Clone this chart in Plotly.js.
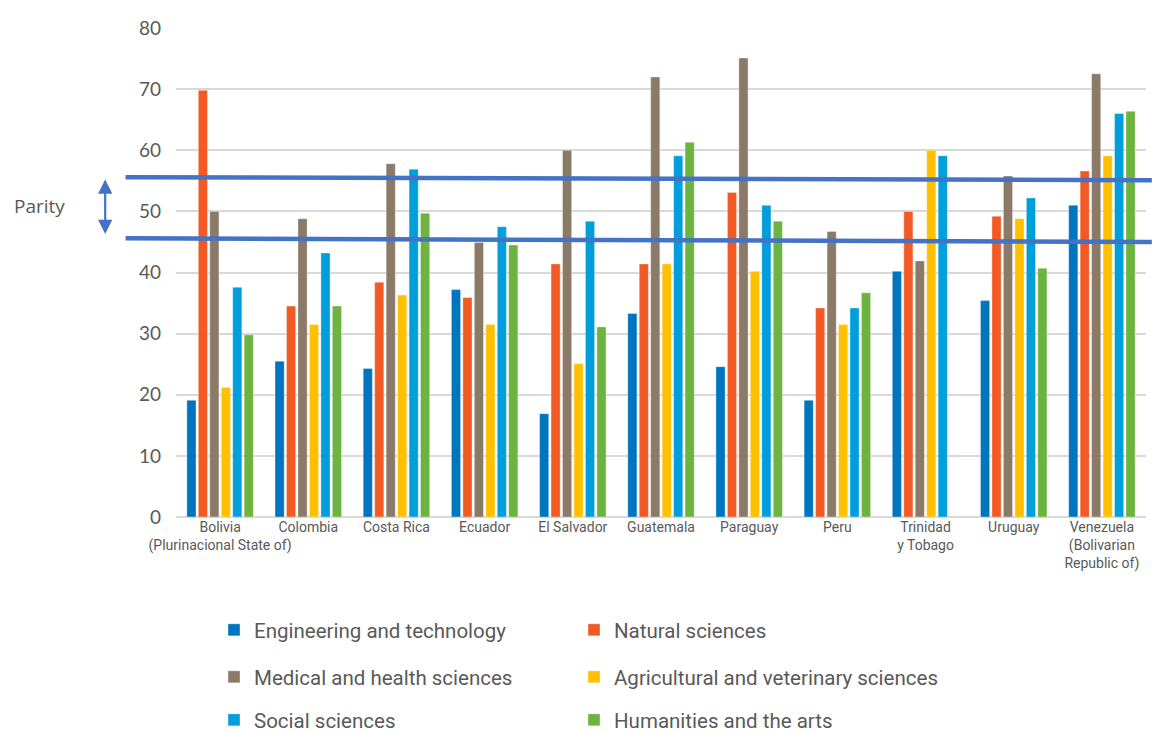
<!DOCTYPE html>
<html>
<head>
<meta charset="utf-8">
<script src="https://cdn.plot.ly/plotly-3.0.1.min.js"></script>
<style>html,body{margin:0;padding:0;background:#fff;}#chart{width:1158px;height:733px;}</style>
</head>
<body>
<div id="chart"></div>
<script>
var countries = ["Bolivia<br>(Plurinacional State of)", "Colombia", "Costa Rica", "Ecuador", "El Salvador", "Guatemala", "Paraguay", "Peru", "Trinidad<br>y Tobago", "Uruguay", "Venezuela<br>(Bolivarian<br>Republic of)"];
var seriesNames = ["Engineering and technology", "Natural sciences", "Medical and health sciences", "Agricultural and veterinary sciences", "Social sciences", "Humanities and the arts"];
var engineering  = [19.1, 25.5, 24.3, 37.2, 16.9, 33.3, 24.6, 19.1, 40.2, 35.4, 51.0];
var natural      = [69.8, 34.5, 38.4, 35.9, 41.4, 41.4, 53.1, 34.2, 50.0, 49.2, 56.6];
var medical      = [50.0, 48.8, 57.8, 44.9, 60.0, 72.0, 75.1, 46.7, 41.9, 55.8, 72.5];
var agricultural = [21.2, 31.5, 36.3, 31.5, 25.1, 41.4, 40.2, 31.5, 60.0, 48.8, 59.1];
var social       = [37.6, 43.2, 56.9, 47.5, 48.4, 59.1, 51.0, 34.2, 59.1, 52.2, 66.0];
var humanities   = [29.8, 34.5, 49.7, 44.5, 31.1, 61.3, 48.4, 36.7, null, 40.7, 66.4];
var parityUpper = [55.6, 55.1];
var parityLower = [45.6, 45.0];
var yTicks = [0, 10, 20, 30, 40, 50, 60, 70, 80];

var colors = ["#0075BF", "#F15A24", "#8B7A67", "#FFC000", "#009FDB", "#6DB33F"];
var values = [engineering, natural, medical, agricultural, social, humanities];
var legendIds = ["legend", "legend2", "legend3", "legend4", "legend5", "legend6"];

var traces = values.map(function (v, i) {
  return {
    type: "bar",
    name: seriesNames[i],
    x: countries,
    y: v,
    legend: legendIds[i],
    showlegend: true,
    marker: {color: colors[i], line: {color: "rgba(255,255,255,0.6)", width: 0.6}},
    hoverinfo: "x+y+name"
  };
});

var legendFont = {family: "Roboto, Open Sans, sans-serif", size: 20.5, color: "#595959"};
function mkLegend(x, y) {
  return {
    orientation: "h", xref: "container", yref: "container",
    x: x, y: y, xanchor: "left", yanchor: "middle",
    font: legendFont, bgcolor: "rgba(0,0,0,0)", itemclick: false, itemdoubleclick: false
  };
}
var colX = [214 / 1158, 574 / 1158];
var rowY = [1 - 630 / 733, 1 - 677 / 733, 1 - 720 / 733];

var layout = {
  width: 1158, height: 733,
  showlegend: true,
  margin: {l: 176, r: 12, t: 28, b: 216},
  paper_bgcolor: "#fff", plot_bgcolor: "#fff",
  barmode: "group", bargap: 0.22, bargroupgap: 0.2,
  font: {family: "Open Sans, sans-serif", color: "#595959"},
  xaxis: {
    type: "category", showgrid: false, zeroline: false, showline: false, ticks: "",
    tickangle: 0,
    tickfont: {family: "Roboto, Open Sans, sans-serif", size: 14, color: "#595959"},
    automargin: false
  },
  yaxis: {
    range: [0, 80], tickvals: yTicks, showgrid: true, gridcolor: "#d9d9d9", gridwidth: 2,
    zeroline: true, zerolinecolor: "#d9d9d9", zerolinewidth: 2, showline: false, ticks: "",
    tickfont: {family: "Lato, Open Sans, sans-serif", size: 19, color: "#595959"},
    ticklabelstandoff: 14, automargin: false
  },
  legend: mkLegend(colX[0], rowY[0]),
  legend2: mkLegend(colX[1], rowY[0]),
  legend3: mkLegend(colX[0], rowY[1]),
  legend4: mkLegend(colX[1], rowY[1]),
  legend5: mkLegend(colX[0], rowY[2]),
  legend6: mkLegend(colX[1], rowY[2]),
  shapes: [
    {type: "line", xref: "paper", yref: "y", x0: -0.052, x1: 1.006, y0: parityUpper[0], y1: parityUpper[1], line: {color: "#4472C4", width: 4.5}, layer: "above"},
    {type: "line", xref: "paper", yref: "y", x0: -0.052, x1: 1.006, y0: parityLower[0], y1: parityLower[1], line: {color: "#4472C4", width: 4.5}, layer: "above"}
  ],
  annotations: [
    {xref: "paper", yref: "y", x: -0.141, y: 50.9, text: "Parity", showarrow: false, xanchor: "center", yanchor: "middle",
     font: {family: "Open Sans, sans-serif", size: 19, color: "#595959"}},
    {xref: "paper", yref: "y", x: -0.073, y: 46.3, ax: 0, ay: -56, text: "", showarrow: true,
     arrowhead: 2, startarrowhead: 2, arrowside: "end+start", arrowsize: 1.3, startarrowsize: 1.3, arrowwidth: 2.2, arrowcolor: "#4472C4"}
  ]
};

Plotly.newPlot("chart", traces, layout, {displayModeBar: false, responsive: false});
</script>
</body>
</html>
